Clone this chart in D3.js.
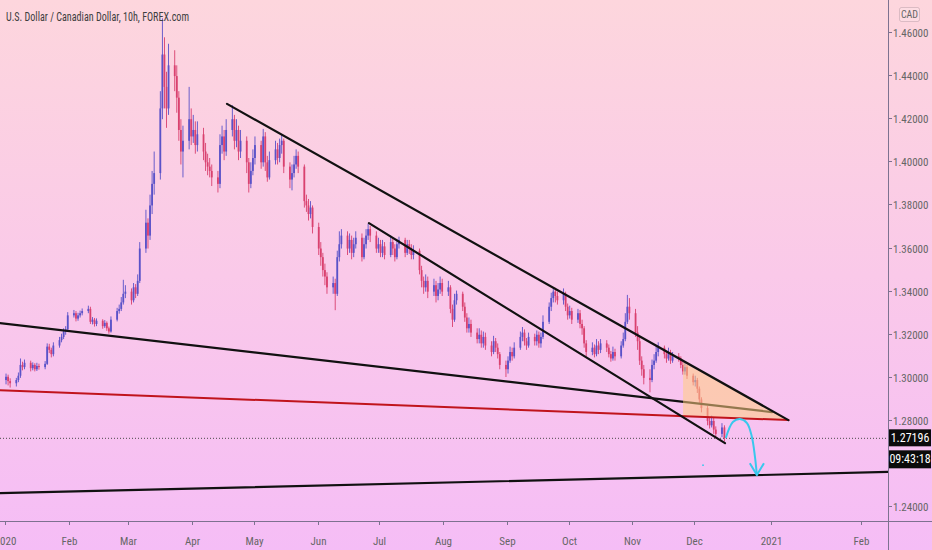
<!DOCTYPE html>
<html><head><meta charset="utf-8">
<script src="https://cdn.jsdelivr.net/npm/d3@7"></script>
<style>html,body{margin:0;padding:0;overflow:hidden;background:#f9c9e8}</style>
</head><body><svg id="c" width="932" height="550"></svg>
<script>
const title = "U.S. Dollar / Canadian Dollar, 10h, FOREX.com";
const currency = "CAD";
const lastPrice = 1.27196;
const countdown = "09:43:18";
const firstOpen = 1.2990;
const closes = [
1.3005,1.2985,1.2975,1.2990,1.3010,1.3060,1.3050,1.3070,1.3045,1.3060,
1.3040,1.3055,1.3050,1.3065,1.3145,1.3130,1.3110,1.3150,1.3175,1.3190,
1.3215,1.3225,1.3290,1.3300,1.3275,1.3290,1.3300,1.3310,1.3320,1.3260,
1.3270,1.3250,1.3265,1.3240,1.3255,1.3230,1.3215,1.3270,1.3310,1.3320,
1.3350,1.3390,1.3400,1.3360,1.3420,1.3390,1.3450,1.3600,1.3720,1.3660,
1.3800,1.3900,1.3950,1.4250,1.4500,1.4350,1.4250,1.4450,1.4400,1.4300,
1.4150,1.4050,1.4100,1.4200,1.4120,1.4150,1.4080,1.4130,1.4050,1.4000,
1.3980,1.3960,1.3930,1.3900,1.4080,1.4120,1.4050,1.4150,1.4200,1.4100,
1.4150,1.4050,1.4100,1.4000,1.3900,1.3960,1.4020,1.4080,1.4000,1.4120,
1.4000,1.3930,1.4010,1.4060,1.4020,1.4080,1.4100,1.3980,1.3920,1.3950,
1.3990,1.4030,1.3980,1.3820,1.3800,1.3760,1.3790,1.3700,1.3600,1.3560,
1.3500,1.3470,1.3420,1.3440,1.3390,1.3560,1.3620,1.3660,1.3600,1.3640,
1.3580,1.3620,1.3650,1.3560,1.3620,1.3660,1.3690,1.3660,1.3600,1.3620,
1.3580,1.3610,1.3570,1.3630,1.3600,1.3560,1.3620,1.3640,1.3580,1.3620,
1.3600,1.3570,1.3590,1.3500,1.3450,1.3420,1.3450,1.3400,1.3430,1.3380,
1.3410,1.3440,1.3400,1.3420,1.3320,1.3270,1.3360,1.3390,1.3330,1.3280,
1.3230,1.3250,1.3210,1.3180,1.3200,1.3160,1.3190,1.3150,1.3120,1.3170,
1.3140,1.3110,1.3060,1.3040,1.3080,1.3120,1.3100,1.3140,1.3190,1.3210,
1.3170,1.3150,1.3190,1.3170,1.3200,1.3160,1.3190,1.3260,1.3330,1.3370,
1.3400,1.3380,1.3360,1.3390,1.3330,1.3290,1.3310,1.3270,1.3300,1.3250,
1.3230,1.3160,1.3120,1.3140,1.3110,1.3150,1.3130,1.3160,1.3140,1.3110,
1.3090,1.3120,1.3100,1.3150,1.3180,1.3260,1.3330,1.3300,1.3210,1.3170,
1.3080,1.3040,1.3000,1.2990,1.3060,1.3080,1.3120,1.3140,1.3110,1.3090,
1.3120,1.3080,1.3100,1.3090,1.3060,1.3030,1.3050,1.3010,1.2980,1.2990,
1.2950,1.2900,1.2860,1.2800,1.2780,1.2800,1.2760,1.2740,1.2770,1.2720];
const highs = [
1.3020,1.3015,1.2998,1.3000,1.3025,1.3090,1.3075,1.3085,1.3080,1.3072,
1.3068,1.3070,1.3066,1.3078,1.3160,1.3158,1.3140,1.3165,1.3190,1.3205,
1.3230,1.3240,1.3305,1.3315,1.3310,1.3302,1.3312,1.3322,1.3335,1.3330,
1.3282,1.3278,1.3276,1.3272,1.3268,1.3262,1.3238,1.3285,1.3325,1.3340,
1.3375,1.3455,1.3430,1.3415,1.3440,1.3435,1.3480,1.3630,1.3780,1.3740,
1.3850,1.3960,1.4050,1.4330,1.4668,1.4580,1.4420,1.4550,1.4520,1.4450,
1.4330,1.4200,1.4170,1.4350,1.4250,1.4220,1.4190,1.4190,1.4160,1.4090,
1.4040,1.4020,1.3990,1.3960,1.4130,1.4170,1.4150,1.4200,1.4265,1.4220,
1.4200,1.4170,1.4150,1.4120,1.4020,1.4000,1.4060,1.4120,1.4100,1.4155,
1.4140,1.4030,1.4050,1.4100,1.4090,1.4110,1.4127,1.4110,1.4000,1.3990,
1.4030,1.4060,1.4050,1.3990,1.3850,1.3830,1.3820,1.3800,1.3720,1.3630,
1.3580,1.3530,1.3490,1.3470,1.3460,1.3590,1.3680,1.3690,1.3680,1.3670,
1.3660,1.3650,1.3680,1.3670,1.3650,1.3690,1.3715,1.3705,1.3680,1.3650,
1.3640,1.3640,1.3630,1.3660,1.3650,1.3620,1.3645,1.3655,1.3650,1.3640,
1.3640,1.3620,1.3615,1.3600,1.3520,1.3470,1.3480,1.3470,1.3460,1.3450,
1.3440,1.3470,1.3460,1.3450,1.3430,1.3340,1.3390,1.3405,1.3400,1.3350,
1.3300,1.3280,1.3270,1.3230,1.3230,1.3220,1.3215,1.3210,1.3170,1.3195,
1.3185,1.3160,1.3120,1.3080,1.3100,1.3145,1.3140,1.3165,1.3215,1.3236,
1.3225,1.3185,1.3210,1.3205,1.3220,1.3215,1.3210,1.3290,1.3350,1.3395,
1.3420,1.3418,1.3400,1.3415,1.3400,1.3345,1.3335,1.3325,1.3320,1.3315,
1.3270,1.3240,1.3175,1.3165,1.3155,1.3180,1.3170,1.3180,1.3175,1.3155,
1.3125,1.3145,1.3135,1.3170,1.3210,1.3300,1.3385,1.3370,1.3320,1.3240,
1.3190,1.3100,1.3060,1.3040,1.3085,1.3110,1.3150,1.3165,1.3150,1.3125,
1.3140,1.3130,1.3120,1.3115,1.3100,1.3075,1.3070,1.3060,1.3020,1.3010,
1.3000,1.2960,1.2910,1.2870,1.2815,1.2825,1.2815,1.2775,1.2790,1.2780];
const lows = [
1.2970,1.2965,1.2955,1.2960,1.2980,1.3000,1.3035,1.3040,1.3030,1.3035,
1.3030,1.3032,1.3038,1.3040,1.3060,1.3115,1.3095,1.3100,1.3140,1.3165,
1.3180,1.3200,1.3220,1.3280,1.3262,1.3265,1.3280,1.3290,1.3300,1.3250,
1.3248,1.3238,1.3240,1.3228,1.3232,1.3218,1.3205,1.3210,1.3262,1.3298,
1.3310,1.3340,1.3370,1.3340,1.3350,1.3370,1.3380,1.3440,1.3580,1.3600,
1.3640,1.3760,1.3850,1.3920,1.4200,1.4250,1.4160,1.4220,1.4330,1.4230,
1.4100,1.3990,1.3930,1.4060,1.4080,1.4090,1.4040,1.4050,1.4010,1.3960,
1.3940,1.3930,1.3890,1.3860,1.3880,1.4040,1.4010,1.4030,1.4120,1.4060,
1.4070,1.4010,1.4020,1.3950,1.3860,1.3880,1.3940,1.3990,1.3970,1.3980,
1.3960,1.3910,1.3920,1.3990,1.3990,1.4000,1.4040,1.3950,1.3880,1.3870,
1.3930,1.3970,1.3950,1.3790,1.3770,1.3730,1.3740,1.3670,1.3570,1.3520,
1.3470,1.3430,1.3390,1.3390,1.3314,1.3380,1.3540,1.3600,1.3570,1.3580,
1.3550,1.3560,1.3600,1.3540,1.3550,1.3600,1.3640,1.3630,1.3580,1.3580,
1.3560,1.3560,1.3550,1.3560,1.3570,1.3540,1.3550,1.3600,1.3560,1.3570,
1.3575,1.3550,1.3550,1.3480,1.3420,1.3390,1.3400,1.3370,1.3380,1.3350,
1.3360,1.3390,1.3380,1.3380,1.3300,1.3236,1.3260,1.3340,1.3310,1.3260,
1.3210,1.3210,1.3190,1.3160,1.3160,1.3140,1.3140,1.3130,1.3100,1.3110,
1.3120,1.3090,1.3040,1.3004,1.3020,1.3070,1.3080,1.3090,1.3130,1.3170,
1.3150,1.3130,1.3140,1.3150,1.3150,1.3140,1.3140,1.3180,1.3250,1.3310,
1.3350,1.3350,1.3340,1.3340,1.3310,1.3270,1.3275,1.3250,1.3255,1.3230,
1.3200,1.3140,1.3100,1.3105,1.3095,1.3100,1.3110,1.3115,1.3120,1.3095,
1.3075,1.3080,1.3080,1.3090,1.3140,1.3170,1.3250,1.3270,1.3190,1.3130,
1.3060,1.3010,1.2970,1.2933,1.2980,1.3040,1.3070,1.3100,1.3090,1.3070,
1.3080,1.3065,1.3070,1.3075,1.3045,1.3015,1.3015,1.2995,1.2965,1.2960,
1.2930,1.2880,1.2840,1.2780,1.2765,1.2770,1.2740,1.2720,1.2725,1.2705];

const priceTicks = [1.24,1.26,1.28,1.30,1.32,1.34,1.36,1.38,1.40,1.42,1.44,1.46];
const monthTicks = ["2020-01-01","2020-02-01","2020-03-01","2020-04-01","2020-05-01","2020-06-01","2020-07-01","2020-08-01","2020-09-01","2020-10-01","2020-11-01","2020-12-01","2021-01-01","2021-02-01"];
const monthLabels = ["2020","Feb","Mar","Apr","May","Jun","Jul","Aug","Sep","Oct","Nov","Dec","2021","Feb"];

// drawings in data space [date, price]
const upperLine   = [["2020-04-17T22:00Z",1.4271],["2021-01-07T00:00Z",1.2804]];
const channelLine = [["2020-06-25T22:00Z",1.3718],["2020-12-15T17:00Z",1.2697]];
const longLine    = [["2019-12-29T12:00Z",1.3254],["2021-01-01T08:00Z",1.2841]];
const redLine     = [["2019-12-29T12:00Z",1.2943],["2021-01-07T00:00Z",1.2804]];
const bottomLine  = [["2019-12-29T12:00Z",1.2465],["2021-02-15T00:00Z",1.2565]];
const triangle    = [["2020-11-25T14:00Z",1.3073],["2021-01-07T00:00Z",1.2804],["2020-11-25T14:00Z",1.2823]];
const arrowArc    = [["2020-12-16T00:00Z",1.2721],["2020-12-18T12:00Z",1.2795],["2020-12-21T00:00Z",1.2809],["2020-12-23T12:00Z",1.2790],["2020-12-25T06:00Z",1.2725],["2020-12-26T08:00Z",1.2632],["2020-12-27T00:00Z",1.2549]];
const arrowHead   = [["2020-12-24T12:00Z",1.2604],["2020-12-27T00:00Z",1.2549],["2020-12-29T12:00Z",1.2604]];
const dotMark     = ["2020-12-05T07:00Z",1.2595];

const W = 932, H = 550, PW = 888, PH = 521;
const FONT = "'Liberation Sans Narrow','Arial Narrow','Roboto Condensed',sans-serif";
const svg = d3.select("#c");
const defs = svg.append("defs");
const grad = defs.append("linearGradient").attr("id","bg").attr("x1",0).attr("y1",0).attr("x2",0).attr("y2",1);
grad.append("stop").attr("offset","0%").attr("stop-color","#fdd6dd");
grad.append("stop").attr("offset","50%").attr("stop-color","#fac9e9");
grad.append("stop").attr("offset","100%").attr("stop-color","#f5bdf6");
defs.append("clipPath").attr("id","plot").append("rect").attr("x",0).attr("y",0).attr("width",PW).attr("height",PH);
svg.append("rect").attr("width",W).attr("height",H).attr("fill","url(#bg)");

const x = d3.scaleUtc()
  .domain([new Date("2020-01-01T00:00Z"),new Date("2020-12-15T00:00Z"),new Date("2021-01-01T00:00Z"),new Date("2021-02-01T00:00Z")])
  .range([5,723,771,861]);
const y = d3.scaleLinear().domain([1.2336,1.4753]).range([PH,0]);

// trading-day dates
const dates = [];
{ let d = new Date("2020-01-01T12:00Z");
  while (dates.length < closes.length) { const wd = d.getUTCDay(); if (wd !== 0 && wd !== 6) dates.push(new Date(d)); d = new Date(d.getTime()+864e5); } }
const candles = closes.map((c,i)=>({date:dates[i], o: i===0?firstOpen:closes[i-1], c, h:highs[i], l:lows[i]}));

const plot = svg.append("g").attr("clip-path","url(#plot)");
const BULL = "#5a52c8", BEAR = "#d9416f";
const cg = plot.append("g");
cg.selectAll("rect.w").data(candles).join("rect").attr("class","w")
  .attr("x",d=>x(d.date)-0.45).attr("width",0.9)
  .attr("y",d=>y(d.h)).attr("height",d=>Math.max(0.5,y(d.l)-y(d.h)))
  .attr("fill",d=>d.c>=d.o?BULL:BEAR);
cg.selectAll("rect.b").data(candles).join("rect").attr("class","b")
  .attr("x",d=>x(d.date)-0.9).attr("width",1.8)
  .attr("y",d=>y(Math.max(d.o,d.c))).attr("height",d=>Math.max(0.8,Math.abs(y(d.o)-y(d.c))))
  .attr("fill",d=>d.c>=d.o?BULL:BEAR);

const line = d3.line().x(p=>x(new Date(p[0]))).y(p=>y(p[1]));
function seg(pts,color,w){ plot.append("path").attr("d",line(pts)).attr("fill","none").attr("stroke",color).attr("stroke-width",w).attr("stroke-linecap","round"); }

seg(bottomLine,"#111",2.2);
seg(longLine,"#111",2.2);
plot.append("line").attr("x1",0).attr("x2",PW).attr("y1",y(lastPrice)).attr("y2",y(lastPrice))
  .attr("stroke","#4a4a4a").attr("stroke-width",1).attr("stroke-dasharray","1,2");
plot.append("path").attr("d",line(triangle)+"Z").attr("fill","rgba(255,205,130,0.55)").attr("stroke","none");
seg(redLine,"#c0141c",2);
seg(upperLine,"#111",2.2);
seg(channelLine,"#111",2.2);
const arc = d3.line().x(p=>x(new Date(p[0]))).y(p=>y(p[1])).curve(d3.curveCatmullRom);
plot.append("path").attr("d",arc(arrowArc)).attr("fill","none").attr("stroke","#38c8ec").attr("stroke-width",2);
plot.append("path").attr("d",line(arrowHead)).attr("fill","none").attr("stroke","#38c8ec").attr("stroke-width",2).attr("stroke-linejoin","round");
plot.append("circle").attr("cx",x(new Date(dotMark[0]))).attr("cy",y(dotMark[1])).attr("r",0.9).attr("fill","#38c8ec");

// axes
const AX = "#7d7290";
svg.append("line").attr("x1",PW+0.5).attr("x2",PW+0.5).attr("y1",0).attr("y2",H).attr("stroke",AX);
svg.append("line").attr("x1",0).attr("x2",W).attr("y1",PH+0.5).attr("y2",PH+0.5).attr("stroke",AX);
const ly = y(lastPrice);
const ra = svg.append("g");
priceTicks.forEach(v=>{
  const yy = Math.round(y(v))+0.5;
  ra.append("line").attr("x1",PW).attr("x2",PW+4).attr("y1",yy-1).attr("y2",yy-1).attr("stroke",AX);
  // labels hidden behind the price / countdown tags are skipped (as TradingView does)
  if (yy > ly - 14 && yy < ly + 36) return;
  ra.append("text").attr("x",PW+5).attr("y",yy+3).attr("font-family",FONT).attr("font-size",11).attr("fill","#666").text(v.toFixed(5));
});
const ba = svg.append("g");
monthTicks.forEach((m,i)=>{
  const xx = Math.round(x(new Date(m+"T00:00Z")))+0.5;
  ba.append("line").attr("x1",xx).attr("x2",xx).attr("y1",PH).attr("y2",PH+4).attr("stroke",AX);
  ba.append("text").attr("x",xx).attr("y",PH+24).attr("text-anchor","middle").attr("font-family",FONT).attr("font-size",11).attr("fill","#666").text(monthLabels[i]);
});
svg.append("rect").attr("x",899.5).attr("y",7.5).attr("width",20).attr("height",14).attr("rx",2).attr("fill","rgba(255,255,255,0.15)").attr("stroke","rgba(120,100,110,0.25)");
svg.append("text").attr("x",909.5).attr("y",18).attr("text-anchor","middle").attr("font-family",FONT).attr("font-size",10).attr("fill","#666").text(currency);
svg.append("rect").attr("x",PW+1).attr("y",ly-9).attr("width",42).attr("height",17).attr("fill","#0b0b0b");
svg.append("text").attr("x",PW+22).attr("y",ly+4).attr("text-anchor","middle").attr("font-family",FONT).attr("font-size",12).attr("fill","#fff").text(lastPrice.toFixed(5));
svg.append("rect").attr("x",PW+1).attr("y",ly+12).attr("width",42).attr("height",18).attr("fill","#0b0b0b");
svg.append("text").attr("x",PW+22).attr("y",ly+25).attr("text-anchor","middle").attr("font-family",FONT).attr("font-size",12).attr("fill","#fff").text(countdown);
svg.append("text").attr("x",6).attr("y",21).attr("font-family",FONT).attr("font-size",13).attr("fill","#3e3e3e")
  .attr("textLength",183).attr("lengthAdjust","spacingAndGlyphs").text(title);
</script></body></html>
